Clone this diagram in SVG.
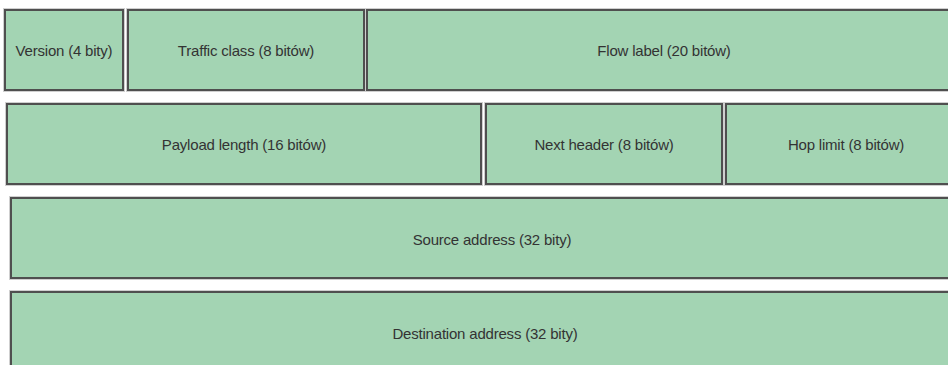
<svg xmlns="http://www.w3.org/2000/svg" width="948" height="365" viewBox="0 0 948 365">
<style>
.outer{fill:none;stroke:#cfcfcf;stroke-width:1}
.box{fill:#a3d4b3;stroke:#4f4f4f;stroke-width:2}
.lbl{font-family:"Liberation Sans",Arial,sans-serif;font-size:15px;fill:#333;text-anchor:middle;dominant-baseline:central;letter-spacing:-0.2px}
</style>
<rect width="948" height="365" fill="#ffffff"/>
<g id="version"><rect class="outer" x="3.5" y="8.5" width="121" height="83"/><rect class="box" x="5" y="10" width="118" height="80"/><text class="lbl" x="64" y="50">Version (4 bity)</text></g>
<g id="traffic-class"><rect class="outer" x="126.5" y="8.5" width="239" height="83"/><rect class="box" x="128" y="10" width="236" height="80"/><text class="lbl" x="246" y="50">Traffic class (8 bitów)</text></g>
<g id="flow-label"><rect class="outer" x="365.5" y="8.5" width="600" height="83"/><rect class="box" x="367" y="10" width="597" height="80"/><text class="lbl" x="664" y="50">Flow label (20 bitów)</text></g>
<g id="payload-length"><rect class="outer" x="5.5" y="102.5" width="477" height="83"/><rect class="box" x="7" y="104" width="474" height="80"/><text class="lbl" x="244" y="144">Payload length (16 bitów)</text></g>
<g id="next-header"><rect class="outer" x="484.5" y="102.5" width="239" height="83"/><rect class="box" x="486" y="104" width="236" height="80"/><text class="lbl" x="604" y="144">Next header (8 bitów)</text></g>
<g id="hop-limit"><rect class="outer" x="724.5" y="102.5" width="243" height="83"/><rect class="box" x="726" y="104" width="240" height="80"/><text class="lbl" x="846" y="144">Hop limit (8 bitów)</text></g>
<g id="source-address"><rect class="outer" x="9.5" y="196.5" width="966" height="83"/><rect class="box" x="11" y="198" width="963" height="80"/><text class="lbl" x="492" y="239">Source address (32 bity)</text></g>
<g id="destination-address"><rect class="outer" x="9.5" y="290.5" width="966" height="83"/><rect class="box" x="11" y="292" width="963" height="80"/><text class="lbl" x="485" y="333">Destination address (32 bity)</text></g>
<g id="connectors"></g>
</svg>
